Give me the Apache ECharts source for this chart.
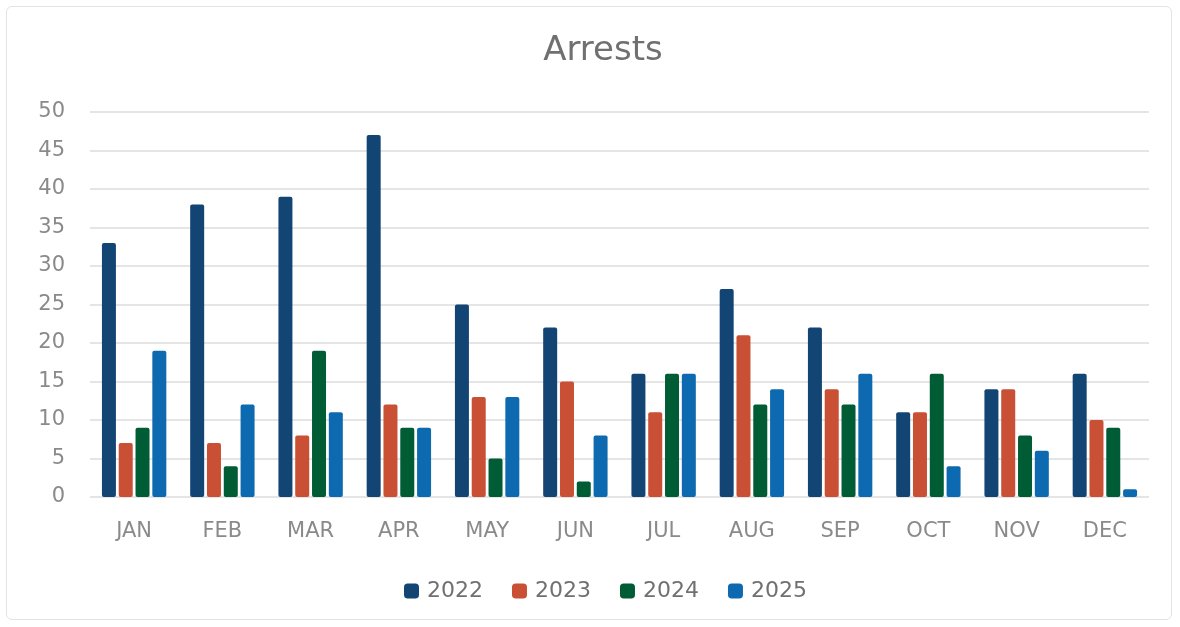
<!DOCTYPE html>
<html><head><meta charset="utf-8">
<script src="https://cdn.jsdelivr.net/npm/echarts@6/dist/echarts.min.js"></script>
<style>html,body{margin:0;padding:0;background:#fff}
#frame{position:absolute;left:6px;top:6px;width:1164px;height:612px;border:1.5px solid #e3e3e3;border-radius:6px;}
#c{width:1180px;height:627px;position:absolute;left:0;top:0}</style>
</head><body><div id="frame"></div><div id="c"></div>
<script>
const months = ['JAN','FEB','MAR','APR','MAY','JUN','JUL','AUG','SEP','OCT','NOV','DEC'];
const s2022 = [33,38,39,47,25,22,16,27,22,11,14,16];
const s2023 = [7,7,8,12,13,15,11,21,14,11,14,10];
const s2024 = [9,4,19,9,5,2,16,12,12,16,8,9];
const s2025 = [19,12,11,9,13,8,16,14,16,4,6,1];
const years = ['2022','2023','2024','2025'];
const colors = ['#134574','#C94F35','#005C35','#0E6AB0'];
const data = [s2022,s2023,s2024,s2025];
const chart = echarts.init(document.getElementById('c'));
const font = 'DejaVu Sans, Verdana, sans-serif';
chart.setOption({
  animation:false,
  title:{text:'Arrests',left:598,textAlign:'center',top:29,textStyle:{fontSize:34,fontWeight:'normal',color:'#707070',fontFamily:font}},
  legend:{bottom:20,left:399,itemWidth:15,itemHeight:15,itemGap:29,icon:'roundRect',
    textStyle:{fontSize:22,color:'#707070',fontFamily:font,padding:[0,0,0,3]}},
  grid:{left:90,right:31,top:112,bottom:130},
  xAxis:{type:'category',data:months,axisLine:{show:false},axisTick:{show:false},
    axisLabel:{fontSize:21,color:'#8a8a8a',margin:24,fontFamily:font}},
  yAxis:{type:'value',min:0,max:50,interval:5,axisLine:{show:false},axisTick:{show:false},
    axisLabel:{fontSize:21,color:'#8a8a8a',margin:25,fontFamily:font},
    splitLine:{lineStyle:{color:'#dcdcdc',width:1.5}}},
  series: years.map((y,i)=>({name:y,type:'bar',data:data[i],barWidth:14,barGap:'20%',
    itemStyle:{color:colors[i],borderRadius:2}}))
});
</script></body></html>
